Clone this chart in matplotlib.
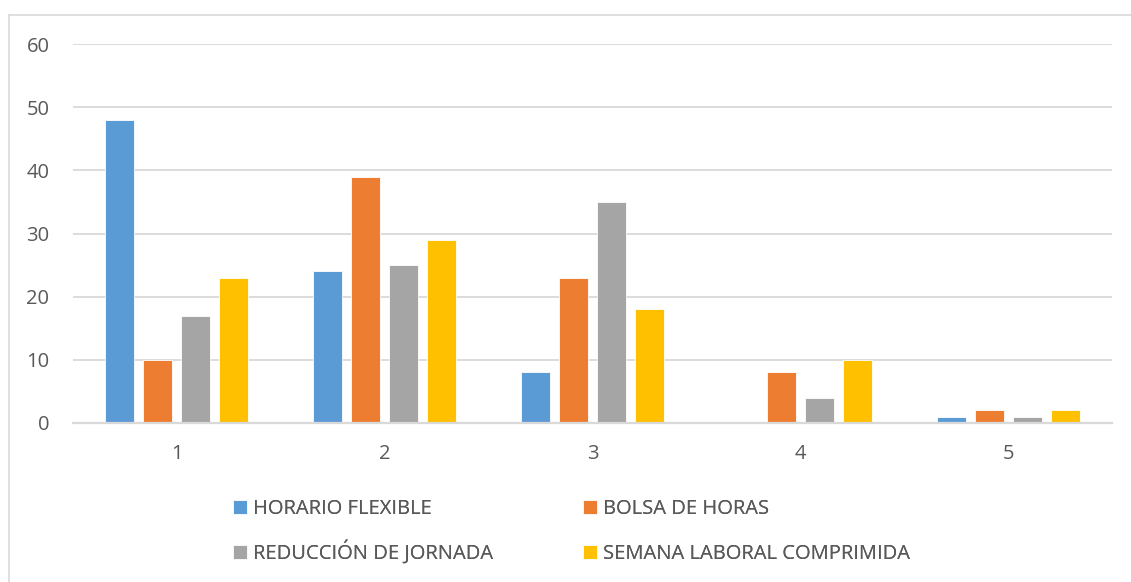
import matplotlib
matplotlib.use("Agg")
import matplotlib.pyplot as plt
from matplotlib.lines import Line2D
import numpy as np

CATEGORIES = ['1', '2', '3', '4', '5']
SERIES_NAMES = [
    'HORARIO FLEXIBLE',
    'BOLSA DE HORAS',
    'REDUCCIÓN DE JORNADA',
    'SEMANA LABORAL COMPRIMIDA',
]
horario_flexible = [48, 24, 8, 0, 1]
bolsa_de_horas = [10, 39, 23, 8, 2]
reduccion_jornada = [17, 25, 35, 4, 1]
semana_comprimida = [23, 29, 18, 10, 2]

COLORS = ['#5B9BD5', '#ED7D31', '#A5A5A5', '#FFC000']
TEXT = '#595959'
GRID = '#D9D9D9'
W, H = 1131, 582

plt.rcParams['font.family'] = ['Open Sans', 'DejaVu Sans']

fig = plt.figure(figsize=(W / 100, H / 100), dpi=100)
ax = fig.add_axes([73 / W, 1 - 423 / H, (1112 - 73) / W, (423 - 44) / H])

x = np.arange(len(CATEGORIES))
width = 0.14
step = 0.183
all_series = [horario_flexible, bolsa_de_horas, reduccion_jornada, semana_comprimida]
handles = []
for i, (vals, name, col) in enumerate(zip(all_series, SERIES_NAMES, COLORS)):
    b = ax.bar(x + (i - 1.5) * step, vals, width, color=col, label=name,
               edgecolor='white', linewidth=0.6, zorder=3)
    handles.append(b)

ax.set_xlim(-0.5, len(CATEGORIES) - 0.5)
ax.set_ylim(0, 60)
ax.set_yticks(range(0, 61, 10))
ax.set_xticks(x)
ax.set_xticklabels(CATEGORIES)
ax.tick_params(axis='both', length=0, colors=TEXT, labelsize=14.5)
ax.tick_params(axis='y', pad=17)
ax.tick_params(axis='x', pad=15)
ax.grid(axis='y', color=GRID, linewidth=1.3, zorder=0)
for side in ['top', 'right', 'left']:
    ax.spines[side].set_visible(False)
ax.spines['bottom'].set_color(GRID)
ax.spines['bottom'].set_linewidth(1.6)
ax.spines['bottom'].set_zorder(4)

# one legend entry per slot, anchored at the bottom so the rows share a baseline
slots = [(233, 519), (583, 519), (233, 564), (583, 564)]
for h, name, (px, py) in zip(handles, SERIES_NAMES, slots):
    leg = fig.legend(handles=[h], labels=[name], loc='lower left',
                     bbox_to_anchor=(px / W, 1 - py / H), frameon=False,
                     fontsize=14.5, handlelength=0.68, handleheight=0.68,
                     handletextpad=0.3, borderpad=0, borderaxespad=0)
    leg.get_texts()[0].set_color(TEXT)
    fig.add_artist(leg)

# chart frame
fig.add_artist(Line2D([9 / W, 9 / W], [0, 1 - 15 / H], color=GRID, linewidth=1.2))
fig.add_artist(Line2D([9 / W, 1], [1 - 15 / H, 1 - 15 / H], color=GRID, linewidth=1.2))

fig.savefig('out.png', dpi=100)
